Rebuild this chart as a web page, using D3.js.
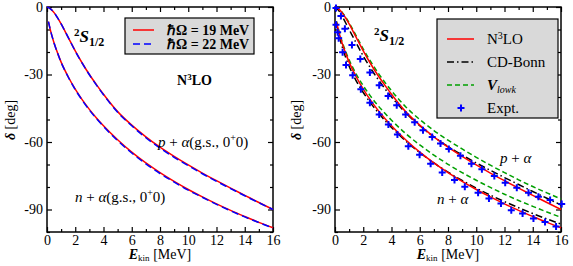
<!DOCTYPE html>
<html>
<head>
<meta charset="utf-8">
<script src="https://cdn.jsdelivr.net/npm/d3@7"></script>
<style>
  body { margin: 0; background: #fff; }
  svg, svg text { font-family: "Liberation Serif", "Times New Roman", serif; }
</style>
</head>
<body>
<svg id="chart" width="573" height="266"></svg>
<script>
// energies (MeV) for the p+alpha and n+alpha curves
const ePA = [0, 0.25, 0.5, 0.75, 1, 1.5, 2, 2.5, 3, 3.5, 4, 5, 6, 7, 8, 9, 10, 11, 12, 13, 14, 15, 16];
const eNA = [0.1, 0.25, 0.5, 0.75, 1, 1.5, 2, 2.5, 3, 3.5, 4, 5, 6, 7, 8, 9, 10, 11, 12, 13, 14, 15, 16];

// N3LO, hbar Omega = 19 MeV (also the N3LO curve of the right panel)
const n3loPA = [0, -0.8, -2.5, -4.8, -7.5, -13.5, -19.5, -25, -30, -34.5, -38.8, -46.5, -52.5, -57.7, -62.3, -66.4, -70.2, -73.8, -77.2, -80.5, -83.7, -86.9, -90];
const n3loNA = [-6.5, -10.5, -16, -20.5, -24.5, -31, -36.5, -41.3, -45.5, -49.3, -52.8, -59, -64.5, -69.3, -73.6, -77.5, -81.1, -84.4, -87.5, -90.4, -93.1, -95.7, -98.1];
// N3LO, hbar Omega = 22 MeV
const hw22PA = [0, -0.8, -2.5, -4.8, -7.5, -13.5, -19.6, -25.1, -30.1, -34.7, -39, -46.8, -52.8, -58.1, -62.7, -66.8, -70.5, -74.1, -77.5, -80.7, -83.9, -87, -90];
const hw22NA = [-6.5, -10.5, -16, -20.5, -24.6, -31.1, -36.7, -41.5, -45.8, -49.6, -53.1, -59.4, -64.9, -69.7, -74, -77.8, -81.4, -84.6, -87.7, -90.6, -93.3, -95.8, -98.2];
// CD-Bonn
const cdbPA = [0, -1.5, -4, -7, -10, -16, -21.8, -27, -31.7, -36, -40, -47, -52.8, -57.7, -62, -65.8, -69.3, -72.6, -75.8, -78.9, -82, -85, -88];
const cdbNA = [-7, -11.5, -17.5, -22.3, -26.3, -32.8, -38, -42.5, -46.5, -50.2, -53.5, -59.5, -64.7, -69.3, -73.4, -77.1, -80.5, -83.6, -86.5, -89.2, -91.8, -94.2, -96.5];
// V_lowk
const vlkPA = [0, -0.8, -2.3, -4.5, -7, -12.8, -18.7, -24, -28.8, -33.2, -37.2, -44.3, -50, -54.9, -59.2, -63.1, -66.8, -70.3, -73.6, -76.8, -79.8, -82.6, -85.3];
const vlkNA = [-6.3, -10, -15.3, -19.7, -23.5, -29.8, -35, -39.5, -43.5, -47, -50.3, -56.2, -61.3, -65.8, -69.9, -73.6, -77, -80.2, -83.2, -86, -88.6, -91.1, -93.5];

// experimental phase shifts
const exPA_E = [0.07, 0.42, 0.7, 1.2, 1.79, 2.47, 3.13, 3.76, 4.37, 5.0, 5.64, 6.23, 6.88, 7.47, 8.06, 8.88, 9.66, 10.4, 11.28, 12.05, 12.87, 13.7, 14.4, 15.23, 16.05];
const exPA_d = [-0.4, -4, -9.7, -16.9, -23.1, -29.1, -34.8, -39.6, -43.7, -47.8, -51.2, -54.8, -57.8, -60.7, -63.1, -66.1, -69.7, -72.1, -75.1, -78.1, -80.3, -82.5, -84.3, -85.8, -87.6];
const exNA_E = [0.07, 0.19, 0.26, 0.54, 0.78, 1.25, 1.83, 2.47, 3.13, 3.78, 4.42, 5.19, 5.99, 6.77, 7.59, 8.46, 9.19, 10.13, 10.9, 11.75, 12.48, 13.28, 14.05, 14.87, 15.65];
const exNA_d = [-7.9, -11.2, -13.9, -20.1, -25.8, -30.3, -36.6, -42.5, -47.8, -52.2, -56.7, -61.9, -65.7, -69.7, -73.6, -76.9, -79.9, -82.5, -85.1, -87.3, -90.3, -91.8, -94.0, -95.5, -97.5];

const xMajor = [0, 2, 4, 6, 8, 10, 12, 14, 16];
const xMinor = [1, 3, 5, 7, 9, 11, 13, 15];
const yMajor = [-90, -60, -30, 0];
const yMinor = [-100, -80, -70, -50, -40, -20, -10];

const svg = d3.select('#chart');
const plotTop = 7, plotBottom = 232;
const serif = '"Liberation Serif", "Times New Roman", serif';

function pts(es, ds) { return es.map((e, i) => [e, ds[i]]); }

function panel(x0, x1, ylabX) {
	let x = d3.scaleLinear().domain([0, 16]).range([x0, x1]);
	let y = d3.scaleLinear().domain([-100, 0]).range([plotBottom, plotTop]);
	let g = svg.append('g');

	// axes with inward ticks on all four sides
	let fmt = (d) => String(d);
	g.append('g').attr('transform', `translate(0,${plotBottom})`).call(d3.axisBottom(x).tickValues(xMajor).tickSize(-5).tickPadding(3).tickFormat(fmt));
	g.append('g').attr('transform', `translate(0,${plotBottom})`).call(d3.axisBottom(x).tickValues(xMinor).tickSize(-3).tickFormat(''));
	g.append('g').attr('transform', `translate(0,${plotTop})`).call(d3.axisTop(x).tickValues(xMajor).tickSize(-5).tickFormat(''));
	g.append('g').attr('transform', `translate(0,${plotTop})`).call(d3.axisTop(x).tickValues(xMinor).tickSize(-3).tickFormat(''));
	g.append('g').attr('transform', `translate(${x0},0)`).call(d3.axisLeft(y).tickValues(yMajor).tickSize(-5).tickPadding(4).tickFormat(fmt));
	g.append('g').attr('transform', `translate(${x0},0)`).call(d3.axisLeft(y).tickValues(yMinor).tickSize(-3).tickFormat(''));
	g.append('g').attr('transform', `translate(${x1},0)`).call(d3.axisRight(y).tickValues(yMajor).tickSize(-5).tickFormat(''));
	g.append('g').attr('transform', `translate(${x1},0)`).call(d3.axisRight(y).tickValues(yMinor).tickSize(-3).tickFormat(''));
	g.selectAll('.domain').remove();
	g.selectAll('g').attr('font-family', null).attr('font-size', null);
	g.selectAll('.tick line').attr('stroke', '#000').attr('stroke-width', 1.2);
	g.selectAll('.tick text').style('font-family', serif).style('font-size', '14px').attr('fill', '#000');

	// frame
	g.append('rect').attr('x', x0).attr('y', plotTop).attr('width', x1 - x0).attr('height', plotBottom - plotTop)
		.attr('fill', 'none').attr('stroke', '#000').attr('stroke-width', 1.5);

	// axis titles
	let xt = g.append('text').attr('x', (x0 + x1) / 2).attr('y', 259).attr('text-anchor', 'middle').attr('font-size', 14);
	xt.append('tspan').attr('font-weight', 'bold').attr('font-style', 'italic').text('E');
	xt.append('tspan').attr('font-size', 9).attr('font-weight', 'normal').attr('dy', 2).text('kin');
	xt.append('tspan').attr('dy', -2).text(' [MeV]');

	let yt = g.append('text').attr('transform', `translate(${ylabX},120) rotate(-90)`).attr('text-anchor', 'middle').attr('font-size', 14);
	yt.append('tspan').attr('font-weight', 'bold').attr('font-style', 'italic').text('δ');
	yt.append('tspan').text(' [deg]');

	return { x, y, g };
}

function curve(p, es, ds, color, dash) {
	let line = d3.line().x((d) => p.x(d[0])).y((d) => p.y(d[1])).curve(d3.curveMonotoneX);
	p.g.append('path').datum(pts(es, ds)).attr('d', line).attr('fill', 'none')
		.attr('stroke', color).attr('stroke-width', 1.5).attr('stroke-dasharray', dash);
}

function wave(g, x, y) {
	let t = g.append('text').attr('x', x).attr('y', y).attr('font-size', 17).attr('font-weight', 'bold').attr('font-style', 'italic');
	t.append('tspan').attr('font-size', 11).attr('dy', -6).attr('font-style', 'normal').text('2');
	t.append('tspan').attr('dy', 6).text('S');
	t.append('tspan').attr('font-size', 12).attr('dy', 4).attr('font-style', 'normal').text('1/2');
}

function reaction(g, x, y, nuc, full) {
	let t = g.append('text').attr('x', x).attr('y', y).attr('font-size', 15);
	t.append('tspan').attr('font-style', 'italic').text(nuc);
	t.append('tspan').text(' + ');
	t.append('tspan').attr('font-style', 'italic').text('α');
	if (full) {
		t.append('tspan').text('(g.s., 0');
		t.append('tspan').attr('font-size', 10).attr('dy', -6).text('+');
		t.append('tspan').attr('dy', 6).text('0)');
	}
}

// ---- left panel: hbar Omega dependence
let L = panel(47, 273, 15);
curve(L, ePA, n3loPA, '#ff0000', null);
curve(L, eNA, n3loNA, '#ff0000', null);
curve(L, ePA, hw22PA, '#0000ff', '7,4');
curve(L, eNA, hw22NA, '#0000ff', '7,4');
wave(L.g, 74, 42);
reaction(L.g, 158, 147, 'p', true);
reaction(L.g, 75, 202, 'n', true);
let n3 = L.g.append('text').attr('x', 177).attr('y', 85).attr('font-size', 14).attr('font-weight', 'bold');
n3.append('tspan').text('N');
n3.append('tspan').attr('font-size', 9).attr('dy', -5).text('3');
n3.append('tspan').attr('dy', 5).text('LO');

L.g.append('rect').attr('x', 125).attr('y', 18).attr('width', 129).attr('height', 36)
	.attr('fill', '#d9d9d9').attr('stroke', '#000').attr('stroke-width', 1.2);
[['#ff0000', null, '19', 30], ['#0000ff', '7,4', '22', 44]].forEach(([c, dash, v, yy]) => {
	L.g.append('line').attr('x1', 133).attr('x2', 154).attr('y1', yy).attr('y2', yy)
		.attr('stroke', c).attr('stroke-width', 1.5).attr('stroke-dasharray', dash);
	L.g.append('text').attr('x', 167).attr('y', yy + 5).attr('font-size', 14).attr('font-weight', 'bold')
		.text(`ℏΩ = ${v} MeV`);
});

// ---- right panel: comparison of interactions
let R = panel(335, 561, 301);
curve(R, ePA, vlkPA, '#00a000', '5,3');
curve(R, eNA, vlkNA, '#00a000', '5,3');
curve(R, ePA, cdbPA, '#000', '7,3,1.5,3');
curve(R, eNA, cdbNA, '#000', '7,3,1.5,3');
curve(R, ePA, n3loPA, '#ff0000', null);
curve(R, eNA, n3loNA, '#ff0000', null);

let plus = 'M-3.5,0H3.5M0,-3.5V3.5';
let expt = pts(exPA_E, exPA_d).concat(pts(exNA_E, exNA_d));
R.g.selectAll('.ex').data(expt).enter().append('path').classed('ex', true)
	.attr('transform', (d) => `translate(${R.x(d[0])},${R.y(d[1])})`)
	.attr('d', plus).attr('stroke', '#0000ff').attr('stroke-width', 2);

wave(R.g, 374, 41);
reaction(R.g, 500, 163, 'p', false);
reaction(R.g, 437, 204, 'n', false);

R.g.append('rect').attr('x', 437).attr('y', 19).attr('width', 121).attr('height', 99)
	.attr('fill', '#d9d9d9').attr('stroke', '#000').attr('stroke-width', 1.2);
let legR = [['#ff0000', null, 'N3LO', 39], ['#000', '7,3,1.5,3', 'CD-Bonn', 62], ['#00a000', '5,3', 'Vlowk', 85]];
legR.forEach(([c, dash, name, yy]) => {
	R.g.append('line').attr('x1', 447).attr('x2', 474).attr('y1', yy).attr('y2', yy)
		.attr('stroke', c).attr('stroke-width', 1.5).attr('stroke-dasharray', dash);
	let t = R.g.append('text').attr('x', 487).attr('y', yy + 5).attr('font-size', 15);
	if (name === 'N3LO') {
		t.append('tspan').text('N');
		t.append('tspan').attr('font-size', 10).attr('dy', -5).text('3');
		t.append('tspan').attr('dy', 5).text('LO');
	} else if (name === 'Vlowk') {
		t.append('tspan').attr('font-style', 'italic').attr('font-weight', 'bold').text('V');
		t.append('tspan').attr('font-style', 'italic').attr('font-size', 10).attr('dy', 3).text('lowk');
	} else {
		t.text(name);
	}
});
R.g.append('path').attr('transform', 'translate(461,108)').attr('d', plus).attr('stroke', '#0000ff').attr('stroke-width', 2);
R.g.append('text').attr('x', 487).attr('y', 113).attr('font-size', 15).text('Expt.');
</script>
</body>
</html>
